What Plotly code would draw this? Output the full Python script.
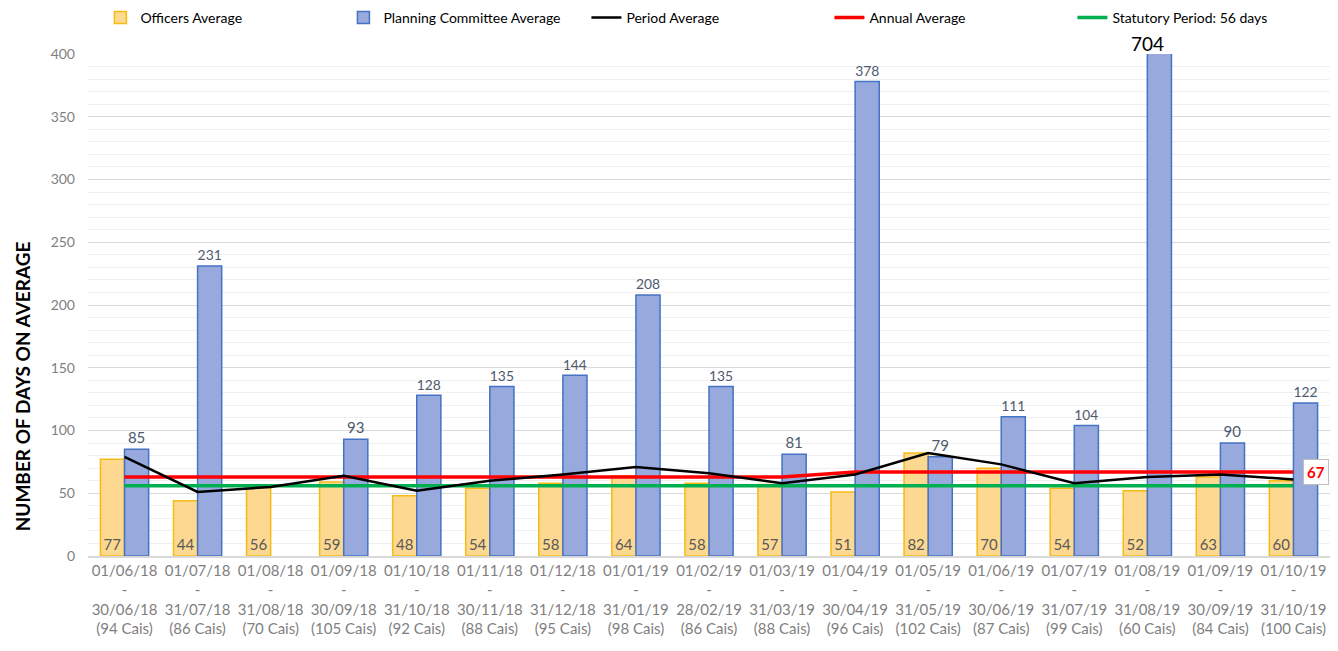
import plotly.graph_objects as go

period_start = ["01/06/18", "01/07/18", "01/08/18", "01/09/18", "01/10/18", "01/11/18",
                "01/12/18", "01/01/19", "01/02/19", "01/03/19", "01/04/19", "01/05/19",
                "01/06/19", "01/07/19", "01/08/19", "01/09/19", "01/10/19"]
period_end = ["30/06/18", "31/07/18", "31/08/18", "30/09/18", "31/10/18", "30/11/18",
              "31/12/18", "31/01/19", "28/02/19", "31/03/19", "30/04/19", "31/05/19",
              "30/06/19", "31/07/19", "31/08/19", "30/09/19", "31/10/19"]
cases = [94, 86, 70, 105, 92, 88, 95, 98, 86, 88, 96, 102, 87, 99, 60, 84, 100]

officers_avg = [77, 44, 56, 59, 48, 54, 58, 64, 58, 57, 51, 82, 70, 54, 52, 63, 60]
committee_avg = [85, 231, None, 93, 128, 135, 144, 208, 135, 81, 378, 79, 111, 104, 704, 90, 122]
period_avg = [79, 51, 55, 64, 52, 60, 65, 71, 66, 58, 65, 82, 73, 58, 63, 65, 61]
annual_avg = [63, 63, 63, 63, 63, 63, 63, 63, 63, 63, 67, 67, 67, 67, 67, 67, 67]
statutory = [56] * 17

y_max = 400

categories = [f"{s}<br>-<br>{e}<br>({c} Cais)" for s, e, c in zip(period_start, period_end, cases)]

FONT = "Lato, 'Noto Sans', sans-serif"

committee_text = [("" if (v is None or v > y_max) else str(v)) for v in committee_avg]

fig = go.Figure()
fig.add_trace(go.Bar(
    x=categories, y=officers_avg, name="Officers Average",
    marker=dict(color="#FCD890", line=dict(color="#F5BA14", width=1.5)),
    text=[str(v) for v in officers_avg], textposition="inside", insidetextanchor="start",
    textfont=dict(color="#595959", size=15, family=FONT), legendrank=1,
))
fig.add_trace(go.Bar(
    x=categories, y=committee_avg, name="Planning Committee Average",
    marker=dict(color="#98AADD", line=dict(color="#4472C4", width=1.5)),
    text=committee_text, textposition="outside",
    textfont=dict(color="#4D5A6E", size=15, family=FONT), legendrank=2,
))
fig.add_trace(go.Scatter(
    x=categories, y=statutory, name="Statutory Period: 56 days", mode="lines",
    line=dict(color="#00B050", width=3.5), legendrank=5,
))
fig.add_trace(go.Scatter(
    x=categories, y=annual_avg, name="Annual Average", mode="lines",
    line=dict(color="#FF0000", width=3.5), legendrank=4,
))
fig.add_trace(go.Scatter(
    x=categories, y=period_avg, name="Period Average", mode="lines",
    line=dict(color="#000000", width=2.5), legendrank=3,
))

# label for clipped bar
for cat, v in zip(categories, committee_avg):
    if v is not None and v > y_max:
        fig.add_annotation(x=cat, y=y_max, text=str(v), showarrow=False, yanchor="bottom",
                           yshift=-3, font=dict(size=19, color="#000000", family=FONT))

# annual average end label
fig.add_annotation(x=categories[-1], y=annual_avg[-1], text=f"<b>{annual_avg[-1]}</b>",
                   showarrow=False, xanchor="left", xshift=10,
                   font=dict(size=15, color="#FF0000", family=FONT),
                   bgcolor="white", bordercolor="#BFBFBF", borderwidth=1, borderpad=3)

# y-axis title (placed as in the reference, below the vertical centre)
fig.add_annotation(xref="paper", yref="paper", x=-0.0636, y=0.337, xanchor="left", yanchor="middle",
                   text="<b>NUMBER OF DAYS ON AVERAGE</b>", textangle=-90, showarrow=False,
                   font=dict(size=19, color="#000000", family=FONT))

# the page body adds an 8px offset, so the figure is 8px smaller than the window
fig.update_layout(
    width=1330, height=643,
    margin=dict(l=80, r=8, t=46, b=95, autoexpand=False),
    paper_bgcolor="white", plot_bgcolor="white",
    font=dict(family=FONT, color="#000000"),
    barmode="group", bargap=0.34, bargroupgap=0.0,
    legend=dict(orientation="h", x=0.01, xanchor="left", y=1.072, yanchor="middle",
                font=dict(size=14, color="#000000"), entrywidth=198, entrywidthmode="pixels",
                bgcolor="rgba(0,0,0,0)"),
    showlegend=True,
)
fig.update_xaxes(
    type="category", showgrid=False, automargin=False,
    showline=True, linecolor="#D9D9D9", linewidth=1.5,
    tickfont=dict(size=15, color="#7F7F7F", family=FONT), ticks="",
)
fig.update_yaxes(
    range=[0, y_max], tickvals=list(range(0, y_max + 1, 50)),
    showgrid=True, gridcolor="#D9D9D9", gridwidth=1,
    minor=dict(dtick=10, showgrid=True, gridcolor="#F0F0F0", gridwidth=1),
    zeroline=False, showline=False, automargin=False,
    tickfont=dict(size=14, color="#7F7F7F", family=FONT), ticklabelstandoff=12,
)

fig.write_html("out.html")
